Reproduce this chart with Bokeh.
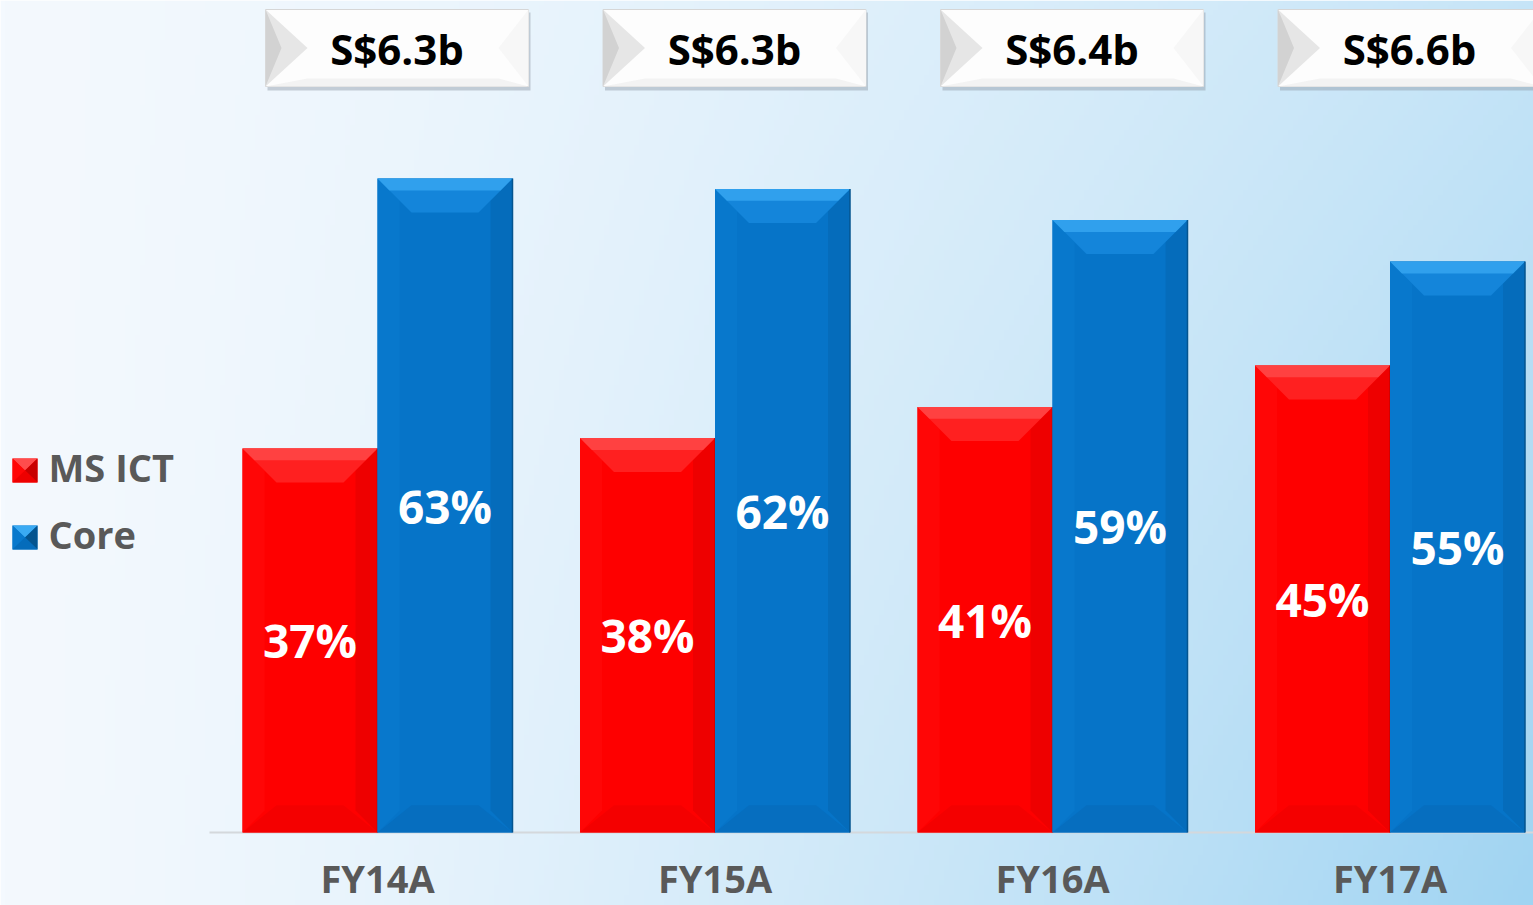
import numpy as np
from bokeh.plotting import figure
from bokeh.models import Range1d, ColumnDataSource
from bokeh.core.properties import value
from bokeh.embed import file_html
from bokeh.resources import INLINE

# ---------------- data ----------------
categories = ["FY14A", "FY15A", "FY16A", "FY17A"]
series_names = ["MS ICT", "Core"]
ms_ict = [37, 38, 41, 45]
core = [63, 62, 59, 55]
totals = ["S$6.3b", "S$6.3b", "S$6.4b", "S$6.6b"]

# ---------------- layout constants ----------------
W, H = 1533, 905
PX_CAT = 337.5          # pixels per category
PX_PCT = 10.38          # pixels per percentage point
FIRST_CENTER = 377.0    # pixel x of first category centre
BASE_PX = 832.0         # pixel y (from top) of zero line
TXT_SHIFT = 16          # empirical baseline correction (px)

x_start = 0.5 - FIRST_CENTER / PX_CAT
x_end = x_start + W / PX_CAT
y_start = -(H - BASE_PX) / PX_PCT
y_end = y_start + H / PX_PCT

def fx(px):
    return x_start + px / PX_CAT

def fy(py):
    return y_end - py / PX_PCT

def dxp(px):
    return px / PX_CAT

def dyp(py):
    return py / PX_PCT

FONT = value("Open Sans")

p = figure(width=W, height=H, x_range=Range1d(x_start, x_end), y_range=Range1d(y_start, y_end),
           x_axis_location=None, y_axis_location=None, toolbar_location=None,
           output_backend="svg", min_border=0)
p.grid.visible = False
p.outline_line_color = None
p.background_fill_color = "#ffffff"
p.border_fill_color = "#ffffff"

# ---------------- background gradient ----------------
ny, nx = 181, 307
u = np.linspace(0, 1, nx)[None, :]
v = np.linspace(1, 0, ny)[:, None]   # row 0 = bottom
t = np.clip((u ** 1.35) * (0.55 + 0.45 * v), 0, 1)
c0 = np.array([244, 249, 254])
c1 = np.array([160, 212, 242])
rgb = c0[None, None, :] * (1 - t[..., None]) + c1[None, None, :] * t[..., None]
img = np.empty((ny, nx), dtype=np.uint32)
view = img.view(dtype=np.uint8).reshape((ny, nx, 4))
view[..., 0] = rgb[..., 0].astype(np.uint8)
view[..., 1] = rgb[..., 1].astype(np.uint8)
view[..., 2] = rgb[..., 2].astype(np.uint8)
view[..., 3] = 255
p.image_rgba(image=[img], x=x_start, y=y_start, dw=x_end - x_start, dh=y_end - y_start)

# ---------------- baseline ----------------
p.segment(x0=[fx(209)], y0=[0], x1=[x_end], y1=[0], line_color="#D4D8DC", line_width=2)

# ---------------- bars with bevels ----------------
BW = 0.4
DX = dxp(34)
DY = dyp(34)
DXS = dxp(22)

styles = {
    "MS ICT": dict(face="#FE0000", top="#FF2020", top2="#FF4C4C", left="#FF0606",
                   right="#EE0000", bottom="#F40000", edge="#C80000"),
    "Core": dict(face="#0674C8", top="#1485DA", top2="#3AAAF3", left="#0878CC",
                 right="#056CBB", bottom="#066EBF", edge="#04548F"),
}

def draw_bars(vals, offset, st):
    left = [i + 0.5 + offset for i in range(len(vals))]
    right = [l + BW for l in left]
    src = ColumnDataSource(dict(left=left, right=right, top=vals, bottom=[0] * len(vals)))
    p.quad(left="left", right="right", top="top", bottom="bottom", source=src,
           fill_color=st["face"], line_color=None)
    tops_x, tops_y, top2_x, top2_y = [], [], [], []
    lx, ly, rx, ry, bx, by = [], [], [], [], [], []
    for l, r, h in zip(left, right, vals):
        tops_x.append([l, r, r - DX, l + DX]); tops_y.append([h, h, h - DY, h - DY])
        top2_x.append([l, r, r - DX * 0.35, l + DX * 0.35]); top2_y.append([h, h, h - DY * 0.35, h - DY * 0.35])
        lx.append([l, l + DXS, l + DXS, l]); ly.append([h, h - DY * DXS / DX, DY * DXS / DX, 0])
        rx.append([r, r - DXS, r - DXS, r]); ry.append([h, h - DY * DXS / DX, DY * DXS / DX, 0])
        bx.append([l, r, r - DX, l + DX]); by.append([0, 0, DY * 0.8, DY * 0.8])
    p.patches(lx, ly, fill_color=st["left"], line_color=None)
    p.patches(rx, ry, fill_color=st["right"], line_color=None)
    p.patches(bx, by, fill_color=st["bottom"], line_color=None)
    p.patches(tops_x, tops_y, fill_color=st["top"], line_color=None)
    p.patches(top2_x, top2_y, fill_color=st["top2"], line_color=None, fill_alpha=0.75)
    p.segment(x0=right, y0=[0] * len(vals), x1=right, y1=vals, line_color=st["edge"], line_width=1.5)
    # labels
    cx = [l + BW / 2 for l in left]
    ly_ = [h / 2 for h in vals]
    p.text(x=cx, y=ly_, text=[f"{h}%" for h in vals], text_font=FONT, text_font_style="bold",
           text_font_size="46px", text_color="white", text_align="center",
           text_baseline="alphabetic", y_offset=0)

draw_bars(ms_ict, -BW, styles["MS ICT"])
draw_bars(core, 0.0, styles["Core"])

# ---------------- total boxes ----------------
centers = [i + 0.5 for i in range(len(categories))]
bl = [c + dxp(-112) for c in centers]
br = [c + dxp(151) for c in centers]
btop, bbot = fy(9), fy(86)
p.quad(left=[l + dxp(2) for l in bl], right=[r + dxp(2) for r in br], top=[fy(12)] * 4,
       bottom=[fy(90)] * 4, fill_color="#8E9AA6", fill_alpha=0.45, line_color=None)
p.quad(left=bl, right=br, top=[btop] * 4, bottom=[bbot] * 4, fill_color="#FDFDFD",
       line_color="#D6D6D6", line_width=1)
ymid = (btop + bbot) / 2
p.patches([[l, l + dxp(42), l] for l in bl], [[btop, ymid, bbot]] * 4, fill_color="#E6E6E6", line_color=None)
p.patches([[l, l + dxp(16), l] for l in bl], [[btop, ymid, bbot]] * 4, fill_color="#D2D2D2", line_color=None)
p.patches([[r, r - dxp(30), r] for r in br], [[btop, ymid, bbot]] * 4, fill_color="#F7F7F7", line_color=None)
p.patches([[l, r, r - dxp(30), l + dxp(42)] for l, r in zip(bl, br)],
          [[bbot, bbot, bbot + dyp(8), bbot + dyp(8)]] * 4, fill_color="#F3F3F3", line_color=None)
p.text(x=[c + dxp(19.5) for c in centers], y=[fy(64 - TXT_SHIFT)] * 4, text=totals, text_font=FONT,
       text_font_style="bold", text_font_size="42px", text_color="#000000",
       text_align="center", text_baseline="alphabetic")

# ---------------- category labels ----------------
p.text(x=centers, y=[fy(893 - TXT_SHIFT)] * 4, text=categories, text_font=FONT, text_font_style="bold",
       text_font_size="38px", text_color="#595959", text_align="center", text_baseline="alphabetic")

# ---------------- legend ----------------
leg_cols = [styles["MS ICT"], styles["Core"]]
leg_tops = [458, 525]
for st, tp, name in zip(leg_cols, leg_tops, series_names):
    x0, x1 = fx(12), fx(37)
    y0, y1 = fy(tp), fy(tp + 24)
    xm, ym = (x0 + x1) / 2, (y0 + y1) / 2
    p.quad(left=[x0], right=[x1], top=[y0], bottom=[y1], fill_color=st["face"], line_color=None)
    p.patches([[x0, x1, xm], [x0, xm, x0], [x1, xm, x1], [x0, x1, xm]],
              [[y0, y0, ym], [y0, ym, y1], [y0, ym, y1], [y1, y1, ym]],
              fill_color=[st["top2"], st["left"], st["edge"], st["right"]], line_color=None)
    p.text(x=[fx(48)], y=[fy(tp + 24 - TXT_SHIFT)], text=[name], text_font=FONT, text_font_style="bold",
           text_font_size="38px", text_color="#595959", text_align="left", text_baseline="alphabetic")

open("out.html", "w").write(file_html(p, INLINE))
